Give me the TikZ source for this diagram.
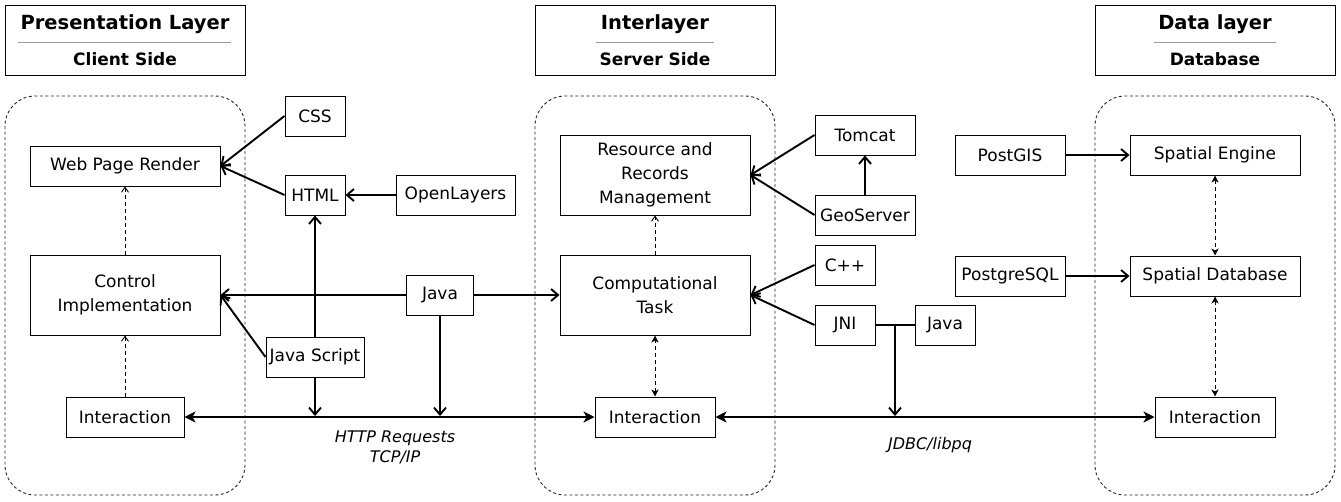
\documentclass[tikz,border=0pt]{standalone}
\usepackage{fontspec}
\setmainfont{DejaVu Sans}
\usetikzlibrary{arrows.meta}

\tikzset{
    box/.style = {draw, line width = 1pt, align = center, inner sep = 0pt,
                  font = \fontsize{17}{24}\selectfont},
    head/.style = {draw, line width = 1pt, minimum width = 240pt, minimum height = 70pt},
    headtitle/.style = {inner sep = 0pt, font = \fontsize{19.5}{22}\selectfont\bfseries},
    headsub/.style = {inner sep = 0pt, font = \fontsize{17}{20}\selectfont\bfseries},
    layer/.style = {draw = black!85, line width = 0.9pt, dash pattern = on 3pt off 2.5pt,
                    rounded corners = 30pt},
    link/.style = {line width = 1.9pt, -{Straight Barb[length = 7pt, width = 12pt]}},
    bus/.style = {line width = 1.9pt,
                  {Stealth[length = 11pt, width = 11pt, inset = 3pt]}-{Stealth[length = 11pt, width = 11pt, inset = 3pt]}},
    depend/.style = {line width = 0.9pt, dash pattern = on 4pt off 3pt,
                     -{Straight Barb[length = 5pt, width = 7pt]}},
    depboth/.style = {line width = 0.9pt, dash pattern = on 4pt off 3pt,
                      {Stealth[length = 7pt, width = 7pt, inset = 2pt]}-{Stealth[length = 7pt, width = 7pt, inset = 2pt]}},
    note/.style = {align = center, inner sep = 0pt, font = \fontsize{16}{20}\selectfont\itshape}
}

\begin{document}
\begin{tikzpicture}[x = 1pt, y = -1pt]
    \useasboundingbox (0, 0) rectangle (1341, 501);

    % layer headers
    \node (preshead)  [head] at (125, 40)  {};
    \node (prestitle) [headtitle] at (125, 24)  {Presentation Layer};
    \node (pressub)   [headsub]   at (125, 59)  {Client Side};
    \draw[black!40, line width = 1pt] (18, 42) -- (231, 42);

    \node (interhead)  [head] at (655, 40) {};
    \node (intertitle) [headtitle] at (655, 24) {Interlayer};
    \node (intersub)   [headsub]   at (655, 59) {Server Side};
    \draw[black!40, line width = 1pt] (596, 42) -- (714, 42);

    \node (datahead)  [head] at (1215, 40) {};
    \node (datatitle) [headtitle] at (1215, 24) {Data layer};
    \node (datasub)   [headsub]   at (1215, 59) {Database};
    \draw[black!40, line width = 1pt] (1154, 42) -- (1276, 42);

    % dashed layers
    \draw[layer] (5, 96)    rectangle (245, 495);
    \draw[layer] (535, 96)  rectangle (775, 495);
    \draw[layer] (1095, 96) rectangle (1335, 495);

    % presentation layer
    \node (web)     [box, minimum width = 190pt, minimum height = 40pt] at (125, 166) {Web Page Render};
    \node (control) [box, minimum width = 190pt, minimum height = 80pt] at (125, 295) {Control\\Implementation};
    \node (interl)  [box, minimum width = 118pt, minimum height = 40pt] at (125, 417) {Interaction};

    \node (css)        [box, minimum width = 60pt, minimum height = 40pt]  at (315, 116) {CSS};
    \node (html)       [box, minimum width = 60pt, minimum height = 40pt]  at (315, 195) {HTML};
    \node (openlayers) [box, minimum width = 119pt, minimum height = 40pt] at (455.5, 195) {OpenLayers};
    \node (jscript)    [box, minimum width = 98pt, minimum height = 40pt]  at (315, 357) {Java Script};
    \node (javal)      [box, minimum width = 67pt, minimum height = 40pt]  at (440, 295) {Java};

    % interlayer
    \node (resource) [box, minimum width = 190pt, minimum height = 80pt] at (655, 175) {Resource and\\Records\\Management};
    \node (comp)     [box, minimum width = 190pt, minimum height = 80pt] at (655, 295) {Computational\\Task};
    \node (interm)   [box, minimum width = 120pt, minimum height = 40pt] at (655, 417) {Interaction};

    \node (tomcat)    [box, minimum width = 100pt, minimum height = 40pt] at (865, 135) {Tomcat};
    \node (geoserver) [box, minimum width = 100pt, minimum height = 40pt] at (865, 215) {GeoServer};
    \node (cpp)       [box, minimum width = 60pt, minimum height = 40pt]  at (845, 265) {C++};
    \node (jni)       [box, minimum width = 60pt, minimum height = 40pt]  at (845, 325) {JNI};
    \node (javar)     [box, minimum width = 60pt, minimum height = 40pt]  at (945, 325) {Java};

    % data layer
    \node (postgis)    [box, minimum width = 110pt, minimum height = 40pt] at (1010, 155) {PostGIS};
    \node (postgresql) [box, minimum width = 110pt, minimum height = 40pt] at (1010, 276) {PostgreSQL};
    \node (engine)     [box, minimum width = 170pt, minimum height = 40pt] at (1215, 155) {Spatial Engine};
    \node (spatialdb)  [box, minimum width = 170pt, minimum height = 40pt] at (1215, 276) {Spatial Database};
    \node (interr)     [box, minimum width = 120pt, minimum height = 40pt] at (1215, 417) {Interaction};

    % protocol labels
    \node (http) [note] at (395, 447) {HTTP Requests\\TCP/IP};
    \node (jdbc) [note] at (930, 445) {JDBC/libpq};

    \coordinate (jsdrop)   at (315, 416);
    \coordinate (javadrop) at (440, 416);
    \coordinate (jnijoin)  at (895, 325);
    \coordinate (jnidrop)  at (895, 416);

    % connectors
    \draw[link] (css.west) -- (web.east);
    \draw[link] (html.west) -- (web.east);
    \draw[link] (openlayers.west) -- (html.east);
    \draw[link] (jscript.north) -- (html.south);
    \draw[link] (jscript.west) -- (control.east);
    \draw[link] (jscript.south) -- (jsdrop);
    \draw[link] (javal.west) -- (control.east);
    \draw[link] (javal.east) -- (comp.west);
    \draw[link] (javal.south) -- (javadrop);

    \draw[link] (tomcat.west) -- (resource.east);
    \draw[link] (geoserver.west) -- (resource.east);
    \draw[link] (geoserver.north) -- (tomcat.south);
    \draw[link] (cpp.west) -- (comp.east);
    \draw[link] (jni.west) -- (comp.east);
    \draw[line width = 1.9pt] (jni.east) -- (javar.west);
    \draw[link] (jnijoin) -- (jnidrop);

    \draw[link] (postgis.east) -- (engine.west);
    \draw[link] (postgresql.east) -- (spatialdb.west);

    \draw[bus] (interl.east) -- (interm.west);
    \draw[bus] (interm.east) -- (interr.west);

    \draw[depend] (control.north) -- (web.south);
    \draw[depend] (interl.north) -- (control.south);
    \draw[depend] (comp.north) -- (resource.south);
    \draw[depboth] (interm.north) -- (comp.south);
    \draw[depboth] (engine.south) -- (spatialdb.north);
    \draw[depboth] (spatialdb.south) -- (interr.north);
\end{tikzpicture}
\end{document}
